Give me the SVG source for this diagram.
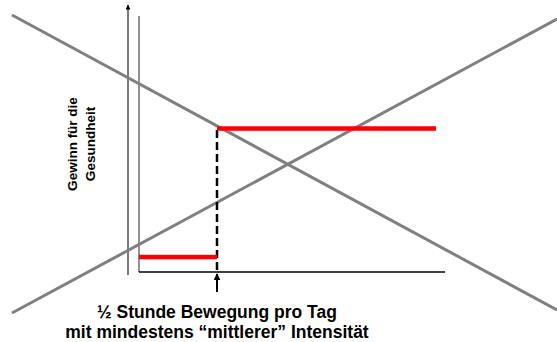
<svg xmlns="http://www.w3.org/2000/svg" width="557" height="342" viewBox="0 0 557 342">
<style>
.diag{stroke:#808080;stroke-width:3;fill:none}
.axis{stroke:#000;stroke-width:1.3;fill:none}
.red{stroke:#FF0000;stroke-width:4.5;fill:none}
.lbl{font-family:"Liberation Sans",Arial,sans-serif;font-weight:bold;fill:#000}
</style>
<defs>
<marker id="ah" viewBox="0 0 10 10" refX="9" refY="5" markerWidth="5" markerHeight="5" orient="auto" markerUnits="userSpaceOnUse">
<path d="M0,0 L10,5 L0,10 z" fill="#000"/>
</marker>
<marker id="ah2" viewBox="0 0 10 10" refX="9" refY="5" markerWidth="7" markerHeight="7" orient="auto" markerUnits="userSpaceOnUse">
<path d="M0,0 L10,5 L0,10 z" fill="#000"/>
</marker>
</defs>
<rect width="557" height="342" fill="#fff"/>
<g id="axes">
<line x1="128" y1="275" x2="128" y2="5" stroke="#333" stroke-width="1.3" marker-end="url(#ah)"/>
<line x1="139" y1="16" x2="139" y2="272" stroke="#555" stroke-width="1.3"/>
<line class="axis" x1="139" y1="272" x2="445" y2="272"/>
</g>
<g id="connectors">
<line class="diag" x1="12" y1="15" x2="557" y2="310"/>
<line class="diag" x1="12" y1="313" x2="557" y2="19"/>
<line x1="217" y1="130" x2="217" y2="272" stroke="#000" stroke-width="2.5" stroke-dasharray="8,4"/>
<line x1="217" y1="292" x2="217" y2="274" stroke="#000" stroke-width="2" marker-end="url(#ah2)"/>
</g>
<g id="red-low"><line class="red" x1="139" y1="257" x2="217" y2="257"/></g>
<g id="red-high"><line class="red" x1="217" y1="128.5" x2="436" y2="128.5"/></g>
<g id="ylabel">
<text class="lbl" font-size="13.5" text-anchor="middle" transform="translate(77,144) rotate(-90)">Gewinn für die</text>
<text class="lbl" font-size="13.5" text-anchor="middle" transform="translate(95,144) rotate(-90)">Gesundheit</text>
</g>
<g id="xlabel">
<text class="lbl" font-size="17.5" text-anchor="middle" x="217" y="318">½ Stunde Bewegung pro Tag</text>
<text class="lbl" font-size="17.5" text-anchor="middle" x="217" y="338">mit mindestens “mittlerer” Intensität</text>
</g>
</svg>
